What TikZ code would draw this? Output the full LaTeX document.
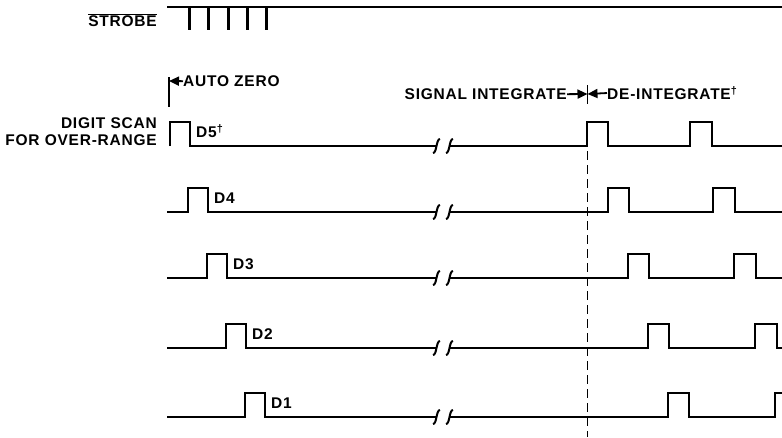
\documentclass[tikz,border=0pt]{standalone}
\usepackage{fontspec}
\setmainfont{Liberation Sans}[LetterSpace=5]
\usetikzlibrary{arrows.meta,positioning}

\tikzset{
  wave/.style={line width=2.5pt, line join=miter},
  lbl/.style={font=\fontsize{15.5}{17}\selectfont\bfseries, inner sep=0pt},
  tip/.style={-{Triangle[length=10pt,width=9pt]}, line width=1.8pt},
  brk/.style={line width=2pt},
  dashline/.style={line width=1.7pt, dash pattern=on 9pt off 5pt}
}

\begin{document}
\begin{tikzpicture}[x=1pt,y=-1pt]
\useasboundingbox (0,0) rectangle (782,437);
\clip (0,0) rectangle (782,437);

%=== STROBE ===
\node[lbl, anchor=base east] (strobe) at (157,26) {$\overline{\hbox{STROBE}}$};
\draw[line width=2.4pt] (167,7) -- (782,7);
\foreach \x in {189,208,228,247,266}
  \draw[line width=3pt] (\x,7) -- (\x,30);

%=== AUTO ZERO ===
\coordinate (azmark) at (169,81);
\draw[line width=1.8pt] (169,77) -- (169,107);
\node[lbl, anchor=base west] (autozero) at (183,86.5) {AUTO ZERO};
\draw[tip] (autozero.west) -- (azmark);

%=== SIGNAL INTEGRATE / DE-INTEGRATE ===
\coordinate (split) at (587.5,94);
\node[lbl, anchor=base east] (sigint) at (567,99.5) {SIGNAL INTEGRATE};
\node[lbl, anchor=base west] (deint) at (607,99.5) {DE-INTEGRATE\textsuperscript{\textdagger}};
\draw[line width=1.8pt] (587.5,85) -- (587.5,104);
\draw[tip] (sigint.east) -- (split);
\draw[tip] (deint.west) -- (split);
\draw[dashline] (587.5,151) -- (587.5,437);

%=== DIGIT SCAN LABEL ===
\node[lbl, anchor=base east] (digitscan) at (157,128) {DIGIT SCAN};
\node[lbl, anchor=base east] (overrange) at (157,145) {FOR OVER-RANGE};

%=== DIGIT ROWS ===
\foreach \name/\base/\xs/\xl/\ra/\rb/\txt in {
    D5/146/170/170/587/690/{D5\textsuperscript{\textdagger}},
    D4/212/167/188/608/713/D4,
    D3/278/167/207/628/734/D3,
    D2/348/167/226/648/755/D2,
    D1/417/167/245/668/775/D1}{
  \draw[wave] (\xs,\base) -- (\xl,\base) -- ++(0,-24) -- ++(20,0) -- ++(0,24) -- (436.5,\base);
  \draw[wave] (449.5,\base) -- (\ra,\base) -- ++(0,-24) -- ++(21,0) -- ++(0,24)
    -- (\rb,\base) -- ++(0,-24) -- ++(22,0) -- ++(0,24) -- (790,\base);
  % break marks
  \draw[brk] (433,\base+7) .. controls (437,\base+7) and (436,\base-7) .. (440,\base-7);
  \draw[brk] (446,\base+7) .. controls (450,\base+7) and (449,\base-7) .. (453,\base-7);
  \node[lbl, anchor=base west] (\name lbl) at (\xl+26,\base-8.5) {\txt};
}

\end{tikzpicture}
\end{document}
